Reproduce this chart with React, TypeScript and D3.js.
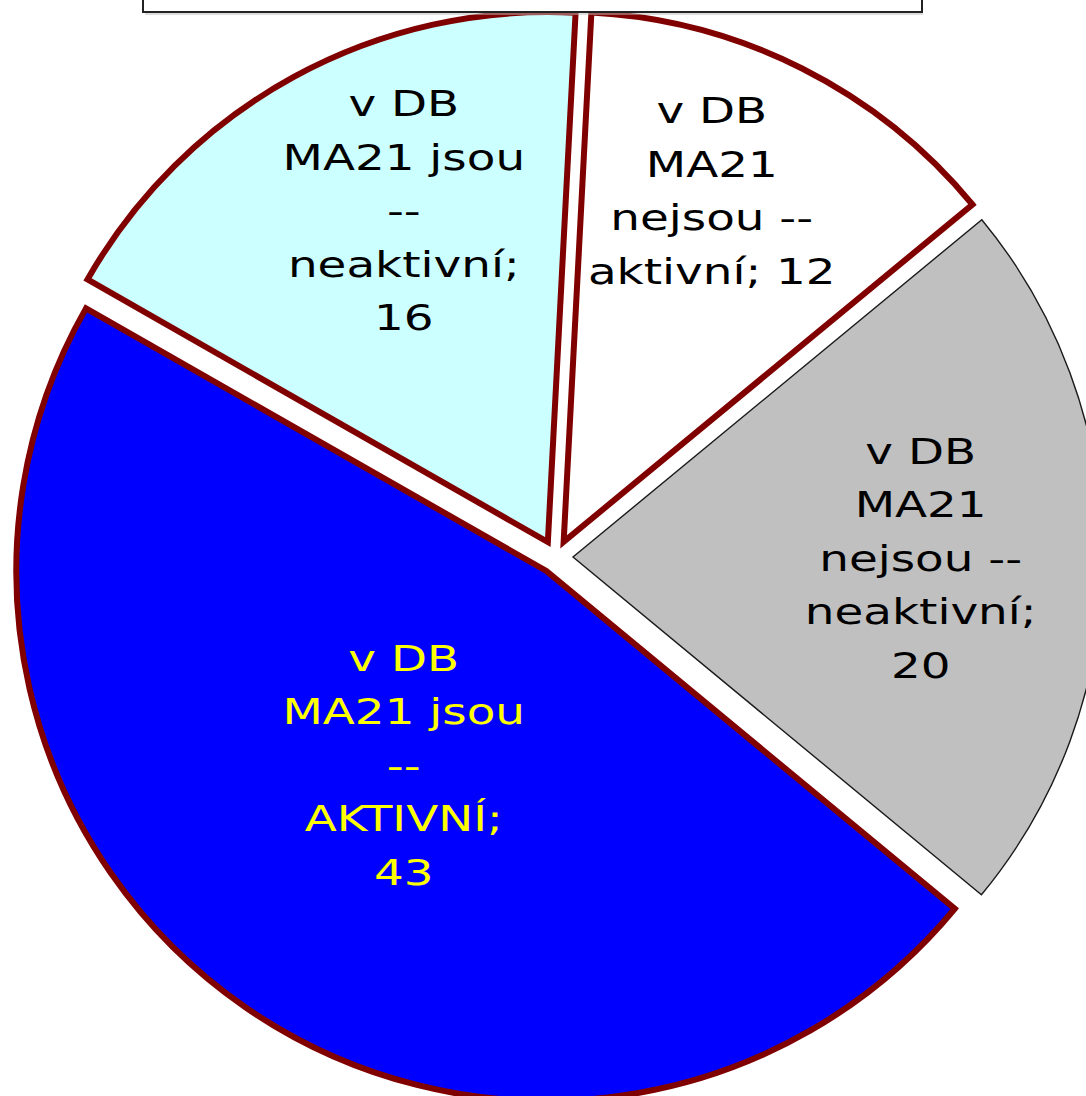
import React from 'react';
import * as d3 from 'd3';

// slice data, clockwise from the top ("\n" = where the label wraps)
const categories = [
  'v DB\nMA21\nnejsou --\naktivní',
  'v DB\nMA21\nnejsou --\nneaktivní',
  'v DB\nMA21 jsou\n--\nAKTIVNÍ',
  'v DB\nMA21 jsou\n--\nneaktivní',
];
const values = [12, 20, 43, 16];

const fills = ['#ffffff', '#c0c0c0', '#0000ff', '#ccffff'];
const textColors = ['#000000', '#000000', '#ffff00', '#000000'];
const strokes = ['#800000', '#1a1a1a', '#800000', '#800000'];
const strokeWidths = [6, 1.4, 6, 6];

// label placement relative to each slice's mid angle (deg) and radius fraction
const labelShift = [-3.9, 0.1, 1.7, 5.2];
const labelRadius = [0.72, 0.656, 0.454, 0.683];

const W = 1086;
const H = 1096;
const cx = 556;
const cy = 557;
const R = 530;
const EXPLODE = 17;
const START = (3 * Math.PI) / 180;

const FONT = '"DejaVu Sans", Verdana, sans-serif';
const FONT_SIZE = 36;
const SX = 1.3;
const LINE_H = 53.5;
const CAP = 0.729 * FONT_SIZE;
const MAX_W = 255;

// category lines, then "; value" on the last line if it still fits
function labelLines(cat: string, value: number): string[] {
  const lines = cat.split('\n');
  const ctx = document.createElement('canvas').getContext('2d');
  const last = lines[lines.length - 1] + '; ' + value;
  let fits = true;
  if (ctx) {
    ctx.font = `${FONT_SIZE}px ${FONT}`;
    fits = ctx.measureText(last).width * SX <= MAX_W;
  }
  if (fits) return [...lines.slice(0, -1), last];
  return [...lines.slice(0, -1), lines[lines.length - 1] + ';', String(value)];
}

const App: React.FC = () => {
  const pie = d3
    .pie<number>()
    .sort(null)
    .startAngle(START)
    .endAngle(START + 2 * Math.PI);
  const arcs = pie(values);
  const arcGen = d3.arc<d3.PieArcDatum<number>>().innerRadius(0).outerRadius(R);

  return (
    <svg
      width={W}
      height={H}
      style={{ position: 'absolute', left: 0, top: 0, background: '#fff' }}
    >
      {arcs.map((a, i) => {
        const mid = (a.startAngle + a.endAngle) / 2;
        const ox = EXPLODE * Math.sin(mid);
        const oy = -EXPLODE * Math.cos(mid);
        const la = mid + (labelShift[i] * Math.PI) / 180;
        const lr = labelRadius[i] * R;
        const lx = ox + lr * Math.sin(la);
        const ly = oy - lr * Math.cos(la);
        const lines = labelLines(categories[i], values[i]);
        const first = ly - ((lines.length - 1) * LINE_H + CAP) / 2 + CAP;
        return (
          <g key={i} transform={`translate(${cx},${cy})`}>
            <path
              d={arcGen(a) || ''}
              transform={`translate(${ox},${oy})`}
              fill={fills[i]}
              stroke={strokes[i]}
              strokeWidth={strokeWidths[i]}
              strokeLinejoin="miter"
            />
            {lines.map((ln, j) => (
              <g key={j} transform={`translate(${lx},${first + j * LINE_H}) scale(${SX},1)`}>
                <text
                  textAnchor="middle"
                  fontFamily={FONT}
                  fontSize={FONT_SIZE}
                  fill={textColors[i]}
                >
                  {ln}
                </text>
              </g>
            ))}
          </g>
        );
      })}
      {/* title box cut off by the top edge */}
      <rect x={143} y={-20} width={779} height={32} fill="#ffffff" stroke="#222" strokeWidth={2} />
      <line x1={145} x2={923} y1={14} y2={14} stroke="#bbb" strokeWidth={1} />
    </svg>
  );
};

export default App;
